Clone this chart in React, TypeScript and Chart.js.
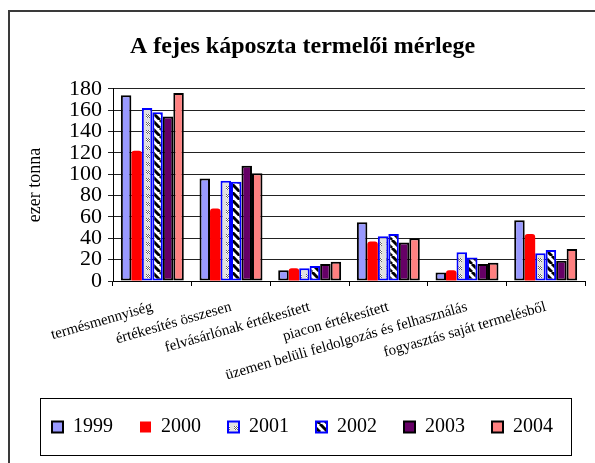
import React, { useEffect, useRef } from 'react';
import { Chart, registerables } from 'chart.js';

Chart.register(...registerables);

const categories = [
  'termésmennyiség',
  'értékesítés összesen',
  'felvásárlónak értékesített',
  'piacon értékesített',
  'üzemen belüli feldolgozás és felhasználás',
  'fogyasztás saját termelésből',
];
const years = ['1999', '2000', '2001', '2002', '2003', '2004'];
const v1999 = [174, 96, 10, 55, 8, 57];
const v2000 = [122, 68, 12, 37, 10, 44];
const v2001 = [162, 94, 12, 42, 27, 26];
const v2002 = [158, 93, 14, 44, 22, 29];
const v2003 = [154, 108, 16, 36, 16, 19];
const v2004 = [176, 101, 18, 40, 17, 30];
const yTicks = [0, 20, 40, 60, 80, 100, 120, 140, 160, 180];

const FONT = "'Liberation Serif', 'Times New Roman', serif";
Chart.defaults.font.family = FONT;

function makeCheckPattern(): CanvasPattern | string {
  const c = document.createElement('canvas');
  c.width = 8;
  c.height = 8;
  const g = c.getContext('2d');
  if (!g) return '#ccc';
  g.fillStyle = '#e0e0e0';
  g.fillRect(0, 0, 8, 8);
  for (let y = 2; y < 6; y++) {
    for (let x = 2; x < 6; x++) {
      g.fillStyle = (x + y) % 2 === 0 ? '#666' : '#fff';
      g.fillRect(x, y, 1, 1);
    }
  }
  return g.createPattern(c, 'repeat') || '#ccc';
}

function makeStripePattern(): CanvasPattern | string {
  const c = document.createElement('canvas');
  c.width = 8;
  c.height = 8;
  const g = c.getContext('2d');
  if (!g) return '#888';
  g.fillStyle = '#fff';
  g.fillRect(0, 0, 8, 8);
  g.strokeStyle = '#000';
  g.lineWidth = 3;
  for (const k of [-8, 0, 8]) {
    g.beginPath();
    g.moveTo(k, 0);
    g.lineTo(k + 8, 8);
    g.stroke();
  }
  return g.createPattern(c, 'repeat') || '#888';
}

const framePlugin = {
  id: 'frame',
  afterDraw(chart: any) {
    const ctx = chart.ctx;
    ctx.save();
    ctx.strokeStyle = '#3a3a3a';
    ctx.lineWidth = 2;
    ctx.beginPath();
    ctx.moveTo(9, chart.height);
    ctx.lineTo(9, 11);
    ctx.lineTo(chart.width, 11);
    ctx.stroke();
    const lg = chart.legend;
    if (lg && lg.legendHitBoxes && lg.legendHitBoxes.length) {
      const boxes = lg.legendHitBoxes;
      let minL = Infinity, maxR = -Infinity, cy = 0;
      for (const b of boxes) {
        minL = Math.min(minL, b.left);
        maxR = Math.max(maxR, b.left + b.width);
        cy = b.top + b.height / 2;
      }
      ctx.strokeStyle = '#000';
      ctx.lineWidth = 1;
      ctx.strokeRect(Math.round(minL - 12) + 0.5, Math.round(cy - 29) + 0.5, Math.round(maxR - minL + 30), 57);
    }
    ctx.restore();
  },
};

export default function App() {
  const ref = useRef<HTMLCanvasElement | null>(null);
  useEffect(() => {
    if (!ref.current) return;
    const checker = makeCheckPattern();
    const stripes = makeStripePattern();
    const chart = new Chart(ref.current, {
      type: 'bar',
      data: {
        labels: categories,
        datasets: [
          { label: years[0], data: v1999, backgroundColor: '#9999ff', borderColor: '#000', borderWidth: 2, borderSkipped: false },
          { label: years[1], data: v2000, backgroundColor: '#ff0000', borderColor: '#ff0000', borderWidth: 0, borderRadius: { topLeft: 3, topRight: 3 }, borderSkipped: false },
          { label: years[2], data: v2001, backgroundColor: checker, borderColor: '#0000ff', borderWidth: 2, borderSkipped: false },
          { label: years[3], data: v2002, backgroundColor: stripes, borderColor: '#0000ff', borderWidth: 2, borderSkipped: false },
          { label: years[4], data: v2003, backgroundColor: '#660066', borderColor: '#000', borderWidth: 2, borderSkipped: false },
          { label: years[5], data: v2004, backgroundColor: '#ff8080', borderColor: '#000', borderWidth: 2, borderSkipped: false },
        ] as any,
      },
      options: {
        responsive: false,
        animation: false,
        layout: { padding: { left: 20, right: 10, top: 14, bottom: 16 } },
        datasets: { bar: { categoryPercentage: 0.8, barPercentage: 1.0 } },
        plugins: {
          title: {
            display: true,
            text: 'A fejes káposzta termelői mérlege',
            color: '#000',
            font: { family: FONT, size: 24, weight: 'bold' },
            padding: { top: 18, bottom: 28 },
          },
          legend: {
            display: true,
            position: 'bottom',
            labels: {
              color: '#000',
              font: { family: FONT, size: 20 },
              boxWidth: 11,
              boxHeight: 11,
              padding: 27,
            },
          },
          tooltip: { enabled: false },
        },
        scales: {
          x: {
            afterFit: (scale: any) => { scale.height = 109; },
            grid: { display: true, drawOnChartArea: false, drawTicks: true, tickLength: 5, color: '#000', offset: true },
            border: { display: true, color: '#000', width: 1 },
            ticks: {
              color: '#000',
              font: { family: FONT, size: 15 },
              minRotation: 16,
              maxRotation: 16,
              autoSkip: false,
              padding: 12,
            },
          },
          y: {
            min: 0,
            max: 180,
            afterFit: (scale: any) => { scale.width = 93; },
            afterBuildTicks: (scale: any) => { scale.ticks = yTicks.map((v) => ({ value: v })); },
            grid: { display: true, drawOnChartArea: true, drawTicks: true, tickLength: 5, color: '#222' },
            border: { display: true, color: '#000', width: 1 },
            ticks: {
              color: '#000',
              font: { family: FONT, size: 22 },
              padding: 6,
              autoSkip: false,
              stepSize: 20,
            },
            title: {
              display: true,
              text: 'ezer tonna',
              color: '#000',
              font: { family: FONT, size: 18 },
              padding: { top: 4, bottom: 0 },
            },
          },
        },
      },
      plugins: [framePlugin],
    } as any);
    return () => chart.destroy();
  }, []);
  return (
    <div style={{ position: 'absolute', left: 0, top: 0, width: 595, height: 463, background: '#fff' }}>
      <canvas ref={ref} width={595} height={463} style={{ display: 'block' }} />
    </div>
  );
}
